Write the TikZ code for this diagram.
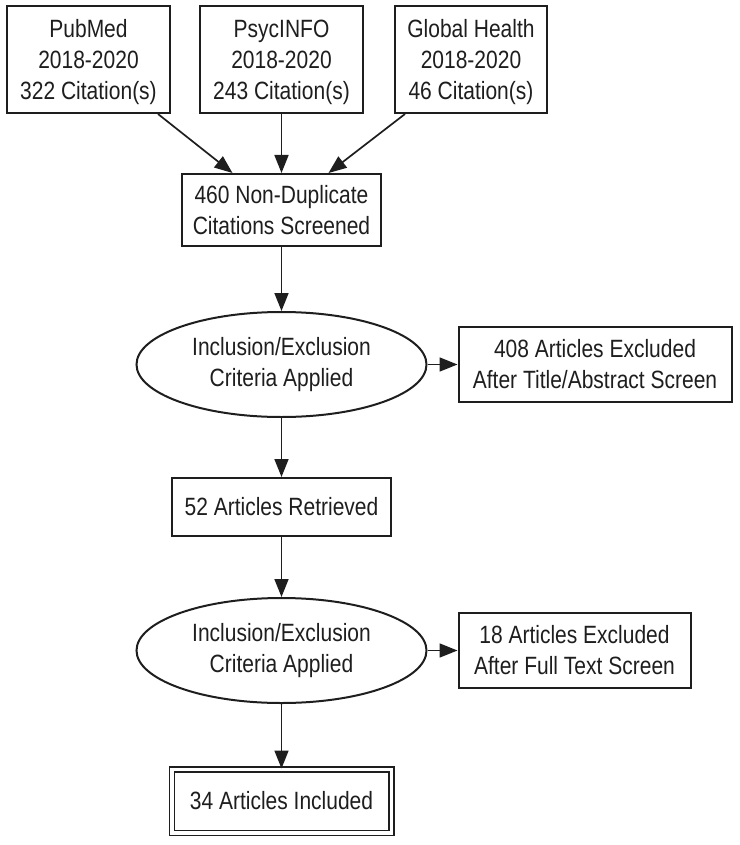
\documentclass[tikz,border=0pt]{standalone}
\usepackage{fontspec}
\setmainfont{Liberation Sans}[FakeStretch=0.84]
\usetikzlibrary{shapes.geometric,arrows.meta,positioning}
\definecolor{inkgrey}{RGB}{30,30,30}

\begin{document}
\begin{tikzpicture}[x=1pt,y=-1pt,font=\fontsize{25}{31}\selectfont,text=inkgrey,
    b/.style={draw=inkgrey,line width=2pt,inner sep=0pt,align=center},
    src/.style={b,minimum height=107pt,text depth=0pt},
    crit/.style={ellipse,draw=inkgrey,line width=2pt,inner sep=0pt,align=center,
                 minimum width=290pt,minimum height=105pt},
    a/.style={-{Triangle[length=18pt,width=14pt]},line width=1.7pt,draw=inkgrey}]
\useasboundingbox (0,0) rectangle (739,845);
\node[src,minimum width=163pt] (pub) at (88.5,59.5) {PubMed\\2018-2020\\322 Citation(s)};
\node[src,minimum width=163pt,right=28pt of pub] (psy) {PsycINFO\\2018-2020\\243 Citation(s)};
\node[src,minimum width=152pt,right=30pt of psy] (glob) {Global Health\\2018-2020\\46 Citation(s)};
\node[b,minimum width=199pt,minimum height=72pt,below=59pt of psy] (dup) {460 Non-Duplicate\\Citations Screened};
\node[crit,below=64pt of dup] (crit1) {Inclusion/Exclusion\\Criteria Applied};
\node[b,minimum width=273pt,minimum height=75pt,right=30pt of crit1] (exc1) {408 Articles Excluded\\After Title/Abstract Screen};
\node[b,minimum width=219pt,minimum height=58pt,below=59pt of crit1] (ret) {52 Articles Retrieved};
\node[crit,below=60pt of ret] (crit2) {Inclusion/Exclusion\\Criteria Applied};
\node[b,minimum width=232pt,minimum height=75pt,right=30pt of crit2] (exc2) {18 Articles Excluded\\After Full Text Screen};
\node[b,double,double distance=3.5pt,line width=1.5pt,minimum width=219.5pt,minimum height=63.5pt,
      below=64.5pt of crit2] (inc) {34 Articles Included};
\draw[a] ([xshift=-13pt]pub.south east) -- ([xshift=-49pt]dup.north);
\draw[a] (psy) -- (dup);
\draw[a] ([xshift=11pt]glob.south west) -- ([xshift=47pt]dup.north);
\draw[a] (dup) -- (crit1);
\draw[a] (crit1) -- (exc1);
\draw[a] (crit1) -- (ret);
\draw[a] (ret) -- (crit2);
\draw[a] (crit2) -- (exc2);
\draw[a] (crit2) -- (inc);
\end{tikzpicture}
\end{document}
